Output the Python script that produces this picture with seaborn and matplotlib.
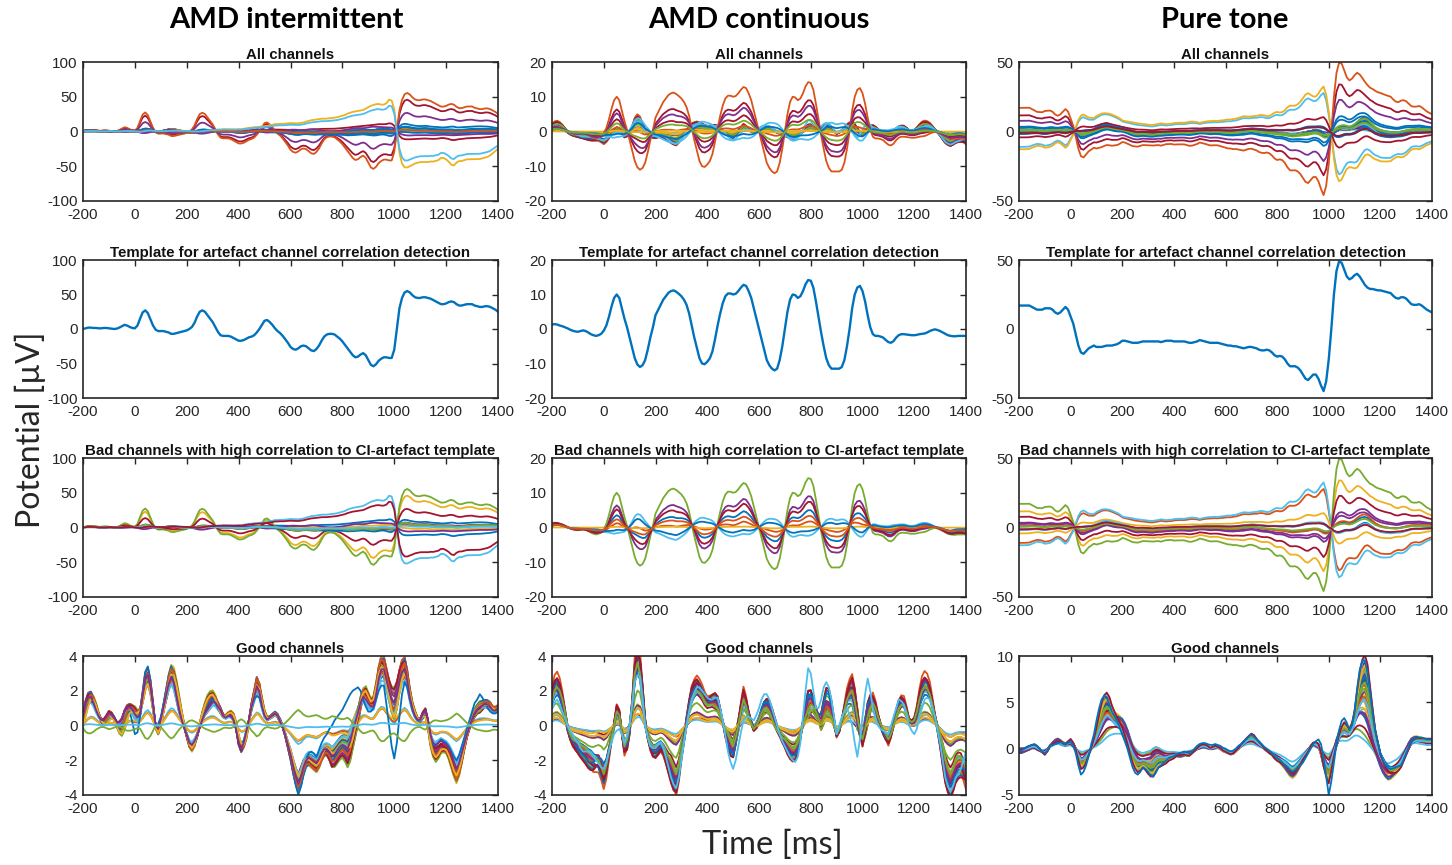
import numpy as np
import pandas as pd
import matplotlib
matplotlib.use("Agg")
import matplotlib.pyplot as plt
import seaborn as sns

# ---------------- DATA (10 ms sampling) ----------------
TIME_MS = np.arange(-200, 1401, 10)

# ---- AMD intermittent ----
TPL_INT = [0, 1, 2, 2, 1.5, 1.5, 1, 1, 1.5, 1.5,
           1, 0.5, 0, 0.5, 2, 4, 6, 5, 3, 1.5,
           1, 5, 15, 24, 27, 23, 14, 5, -1, -3,
           -3, -3, -4, -5, -7, -7, -6, -5, -4, -3,
           -2, 0, 3, 9, 18, 25, 27, 25, 20, 15,
           10, 3, -4, -9, -10, -10, -10, -11, -13, -15,
           -17, -17, -16, -14, -12, -11, -9, -5, 0, 6,
           12, 13, 10, 6, 1, -3, -6, -10, -15, -20,
           -26, -29, -30, -28, -25, -24, -25, -28, -31, -32,
           -29, -24, -17, -11, -8, -7, -7, -8, -11, -14,
           -18, -23, -28, -33, -38, -41, -40, -37, -35, -38,
           -45, -52, -54, -51, -46, -43, -41, -41, -42, -42,
           -30, 0, 30, 45, 53, 55, 53, 49, 46, 45,
           45, 46, 46, 45, 44, 42, 40, 38, 36, 36,
           37, 39, 40, 39, 36, 34, 34, 35, 36, 36,
           36, 34, 33, 32, 32, 33, 33, 32, 30, 28,
           25]
RAMP_INT = [0, 0, 0.5, 0.5, 0.5, 0.5, 0, 0, 0, 0,
            0.5, 0.5, 0, 0, 0, 0, 0.5, 0.5, 0.5, 0.5,
            0, -0.5, -1, -0.5, 0, 0.5, 1, 1, 1, 1,
            0.5, 0.5, 0, 0, 0.5, 0.5, 1, 1, 1, 1,
            1, 1, 0.5, 0.5, 0, 0, 0.5, 1, 1.5, 2,
            2, 2, 2.5, 2.5, 3, 3, 3, 3, 3, 3,
            3.5, 3.5, 4, 4.5, 5, 5, 5.5, 5.5, 6, 6.5,
            7, 7.5, 8.5, 9, 10, 10, 10.5, 10.5, 11, 11.5,
            12, 12, 12, 12, 12.5, 13, 14, 15, 16, 16.5,
            17, 17.5, 18, 18, 18, 18.5, 19, 19.5, 20, 21,
            22, 23, 25, 26, 27, 27.5, 28, 28.5, 29, 31,
            33, 35, 36, 37, 37, 36, 36, 38, 43, 42,
            30, 0, -30, -45, -50, -50, -48, -46, -44, -43,
            -42, -42, -42, -42, -41, -41, -40, -39, -36, -36,
            -38, -41, -45, -46, -42, -40, -40, -39, -38, -38,
            -38, -38, -38, -38, -37, -36, -35, -33, -30, -27,
            -24]
GOOD_MEAN_INT = [0.5, 1.2, 1.5, 1.5, 1.2, 0.8, 0.5, 0.3, 0.3, 0.5,
                 0.7, 0.6, 0.4, 0.2, 0.2, 0.4, 0.8, 1.0, 1.0, 0.9,
                 0.7, 0.5, 0.6, 1.5, 2.4, 2.6, 2.0, 1.0, 0.0, -0.2,
                 0.3, 0.9, 1.5, 2.1, 2.5, 2.2, 1.5, 0.8, 0.3, -0.1,
                 -0.5, -0.9, -1.0, -0.8, -0.5, -0.1, 0.3, 0.6, 0.8, 1.0,
                 1.2, 1.2, 1.0, 0.8, 0.5, 0.4, 0.5, 0.5, 0.3, -0.2,
                 -0.9, -1.2, -0.9, -0.3, 0.3, 1.0, 1.5, 2.1, 1.8, 1.0,
                 0.5, 0.3, 0.4, 0.5, 0.6, 0.5, 0.2, -0.1, -0.5, -1.0,
                 -1.5, -2.1, -2.6, -3.0, -2.6, -2.1, -1.8, -1.7, -1.8, -1.9,
                 -2.0, -1.8, -1.5, -1.3, -1.3, -1.5, -1.8, -1.7, -1.5, -1.3,
                 -1.2, -1.3, -1.5, -1.1, -0.5, 0.0, 0.5, 1.1, 1.5, 1.4,
                 1.2, 1.0, 1.0, 1.6, 2.5, 3.0, 3.0, 2.5, 2.0, 1.6,
                 1.5, 1.9, 2.5, 2.9, 3.0, 2.4, 1.5, 0.9, 0.5, 0.3,
                 0.3, 0.6, 0.8, 0.3, -0.5, -0.9, -1.0, -0.9, -0.8, -0.9,
                 -1.0, -1.2, -1.5, -1.9, -2.3, -2.0, -1.5, -1.0, -0.5, -0.1,
                 0.3, 0.6, 0.8, 0.9, 1.0, 1.1, 1.1, 1.0, 0.8, 0.8,
                 0.9]
GOOD_ALT_INT = [0.2, 0.8, 1.2, 1.4, 1.3, 1.0, 0.6, 0.2, 0.0, 0.1,
                0.3, 0.4, 0.4, 0.1, -0.2, 0.0, 0.4, 0.7, 0.8, 0.2,
                -0.5, -0.4, 0.5, 1.8, 2.7, 3.0, 2.2, 1.0, 0.0, 0.1,
                0.5, 1.2, 2.0, 2.7, 3.0, 2.6, 1.8, 1.1, 0.5, 0.0,
                -0.5, -1.0, -1.2, -1.0, -0.6, 0.0, 0.5, 0.9, 1.2, 1.4,
                1.5, 1.3, 1.0, 0.7, 0.5, 0.5, 0.6, 0.5, 0.4, 0.0,
                -0.8, -1.0, -0.9, -0.4, 0.2, 0.9, 1.5, 1.7, 1.6, 1.1,
                0.6, 0.5, 0.5, 0.6, 0.7, 0.6, 0.4, 0.0, -0.6, -1.0,
                -1.6, -2.3, -3.0, -3.6, -3.5, -2.8, -2.0, -1.6, -1.5, -1.6,
                -1.8, -1.4, -1.0, -0.7, -0.5, -0.2, 0.0, 0.3, 0.5, 0.7,
                0.9, 1.2, 1.5, 1.8, 2.0, 2.1, 2.2, 2.0, 1.5, 1.1,
                0.8, 0.8, 1.0, 1.5, 2.0, 2.3, 2.3, 1.2, 0.0, -1.2,
                -1.9, -1.0, 0.5, 1.8, 2.5, 2.2, 1.5, 0.9, 0.5, 0.3,
                0.2, 0.4, 0.6, 0.0, -0.8, -1.1, -1.2, -1.0, -0.8, -0.9,
                -1.0, -1.2, -1.5, -1.8, -2.0, -1.7, -1.2, -0.7, -0.2, 0.3,
                0.8, 1.3, 1.5, 1.8, 1.6, 1.3, 1.0, 0.8, 0.7, 0.7,
                0.8]
GOOD_LATE_INT = [-0.5, 0.0, 0.8, 1.5, 1.7, 1.4, 0.8, 0.3, 0.0, -0.2,
                 0.0, 0.3, 0.2, -0.3, -0.8, -1.2, -1.0, -0.3, 0.5, 1.0,
                 1.2, 1.3, 1.2, 1.0, 1.5, 2.0, 1.8, 0.8, -0.3, -0.8,
                 -0.5, 0.5, 1.5, 2.5, 3.2, 3.4, 3.0, 2.2, 1.2, 0.2,
                 -0.6, -1.2, -1.5, -1.2, -0.5, 0.3, 1.0, 1.6, 2.1, 2.3,
                 2.2, 1.8, 1.2, 0.7, 0.5, 0.6, 0.8, 1.0, 0.9, 0.5,
                 -0.2, -0.9, -1.3, -1.0, 0.0, 1.0, 2.0, 2.7, 2.5, 1.8,
                 1.0, 0.5, 0.4, 0.5, 0.6, 0.5, 0.3, 0.0, -0.4, -0.9,
                 -1.3, -1.8, -2.3, -2.6, -2.5, -2.2, -2.0, -2.2, -2.5, -2.6,
                 -2.7, -2.6, -2.2, -1.8, -1.6, -1.8, -2.1, -2.3, -2.2, -2.0,
                 -1.8, -2.0, -2.3, -2.5, -2.0, -1.0, 0.0, 1.2, 2.2, 2.7,
                 2.3, 1.8, 2.0, 2.8, 3.6, 4.0, 3.6, 2.8, 2.0, 1.2,
                 0.8, 1.2, 2.0, 2.8, 3.2, 3.0, 2.3, 1.5, 1.0, 0.5,
                 0.3, 0.5, 0.3, -0.5, -1.5, -2.2, -2.6, -2.4, -2.0, -1.8,
                 -1.8, -2.2, -2.8, -3.3, -3.6, -3.2, -2.5, -1.6, -0.8, -0.2,
                 0.3, 0.7, 0.9, 1.0, 1.1, 1.2, 1.3, 1.3, 1.2, 1.1,
                 1.0]
GOOD_W_MEAN_INT = [0.9, 1.1, 0.5, 1.2, 0.8, 0.15, 1.0, 0.7, 1.2, 0.4, 0.95, 0.3,
                   1.1, 0.85, 0.5, 0.15, 0.75, 0.5, 1.1, 0.9, 0.4, 1.0, 0.55, 0.2,
                   1.0, 0.4, 0.7, 1.2, 0.0, 0.8, 0.3, 1.0, -0.3, 0.05]
GOOD_W_ALT_INT = [0.1, -0.1, 0.3, 0.0, 0.2, 0.1, -0.2, 0.3, 0.0, 0.3, 0.1, 0.2,
                  -0.1, 0.2, 0.3, 0.05, 0.3, 0.1, -0.2, 0.1, 0.2, 0.2, 0.1, 0.0,
                  0.0, 0.3, 0.2, -0.1, 1.0, 0.1, 0.2, 0.1, 0.0, 0.0]
GOOD_W_LATE_INT = [0.2, 0.0, 0.4, 0.1, 0.0, 0.1, 0.2, 0.0, 0.1, 0.5, 0.0, 0.6,
                   0.2, 0.0, 0.3, 0.1, 0.0, 0.4, 0.2, 0.0, 0.5, 0.1, 0.3, 0.1,
                   0.2, 0.4, 0.0, 0.1, 0.0, 0.3, 0.5, 0.0, 0.0, 0.0]
BAD_TPL_INT = [0.0, 0.05, 0.82, 0.1, 1.0, 0.0, 0.47, 0.0, 0.06, 0.0, -0.12, 0.08, 0.02, 0.0]
BAD_RAMP_INT = [0.25, 0.0, 0.0, 0.0, 0.0, 1.05, 0.0, -0.18, 0.0, 0.05, 0.0, 0.0, 0.0, 0.85]
BAD_NEURAL_INT = [0.5, 0.8, 0.3, 0.6, 0.2, 0.3, 0.4, 0.7, 0.5, 0.6, 0.4, 0.8, 0.5, 0.3]

# ---- AMD continuous ----
TPL_CONT = [1.3, 1.4, 1.3, 1.0, 0.8, 0.5, 0.2, -0.2, -0.5, -0.7,
            -0.8, -0.6, -0.4, -0.6, -1.0, -1.5, -1.8, -2.0, -1.8, -1.4,
            -0.5, 1.0, 3.5, 6.5, 9.0, 10.0, 9.0, 6.0, 3.0, 0.5,
            -2.5, -5.5, -8.5, -10.3, -11.0, -10.5, -9.0, -6.0, -2.5, 0.5,
            4.0, 5.5, 7.0, 8.5, 9.5, 10.5, 11.0, 11.2, 10.8, 10.2,
            9.5, 8.5, 7.0, 4.5, 1.0, -2.5, -5.5, -8.5, -10.0, -10.2,
            -9.5, -8.5, -6.5, -3.0, 1.0, 4.5, 7.5, 9.5, 10.3, 10.3,
            10.0, 10.2, 11.0, 12.0, 12.8, 12.5, 11.0, 9.0, 6.0, 3.0,
            0.0, -3.0, -6.0, -9.0, -10.5, -11.5, -12.0, -11.5, -9.0, -5.0,
            0.0, 5.0, 8.5, 10.0, 9.8, 9.0, 9.5, 11.0, 13.0, 14.2,
            14.0, 12.0, 8.0, 3.5, -1.0, -5.0, -8.5, -10.5, -11.5, -11.5,
            -11.5, -11.5, -11.0, -9.0, -5.0, 0.0, 6.0, 10.0, 12.0, 12.5,
            11.0, 8.0, 4.0, 0.5, -1.5, -2.0, -2.0, -2.2, -2.5, -3.2,
            -3.8, -4.0, -3.5, -2.5, -1.8, -1.5, -1.5, -1.6, -1.7, -1.8,
            -1.8, -1.7, -1.5, -1.4, -1.3, -1.0, -0.6, -0.3, -0.1, -0.3,
            -0.6, -1.0, -1.4, -1.8, -2.0, -2.1, -2.1, -2.0, -2.0, -2.0,
            -2.0]
GOOD_MEAN_CONT = [1.5, 2.0, 2.2, 2.0, 1.5, 0.8, 0.0, -0.5, -0.8, -0.9,
                  -1.0, -1.1, -1.2, -1.3, -1.5, -1.6, -1.8, -1.9, -2.0, -2.4,
                  -2.8, -2.3, -1.5, -0.7, 0.0, 0.8, 0.6, -0.4, -1.2, -0.8,
                  0.0, 1.2, 3.0, 3.6, 3.0, 1.5, 0.0, -0.6, -1.0, -1.2,
                  -1.2, -1.1, -1.0, -1.2, -1.5, -1.8, -2.0, -2.4, -2.8, -2.3,
                  -1.5, -0.8, 0.0, 0.8, 1.5, 1.8, 2.0, 1.9, 1.7, 1.4,
                  1.2, 1.2, 1.2, 1.1, 1.0, 0.6, 0.2, -0.2, -0.5, -0.9,
                  -1.2, -0.7, 0.0, 0.8, 1.5, 1.1, 0.5, 0.1, -0.2, 0.0,
                  0.3, 0.7, 1.0, 1.0, 0.8, 0.4, 0.0, -0.3, -0.5, -0.7,
                  -0.8, -1.0, -1.2, -1.3, -1.3, -1.0, -0.5, 0.0, 0.5, 0.9,
                  1.2, 1.1, 0.8, 0.4, 0.0, 0.4, 0.8, 0.7, 0.5, 0.0,
                  -0.5, -0.2, 0.3, 0.9, 1.5, 1.8, 2.0, 1.4, 0.5, -0.3,
                  -0.8, -0.2, 0.5, 1.0, 1.3, 1.0, 0.5, 0.1, -0.2, -0.5,
                  -0.8, -0.5, 0.0, 0.5, 1.0, 1.2, 1.2, 0.8, 0.3, 0.2,
                  0.3, 0.8, 1.5, 2.0, 2.2, 2.1, 1.8, 1.2, 0.5, 0.0,
                  -0.5, -1.2, -2.0, -2.5, -2.8, -2.5, -2.0, -1.8, -1.8, -2.1,
                  -2.5]
GOOD_ALT_CONT = [1.0, 1.3, 1.5, 1.2, 0.8, 0.4, 0.0, -0.3, -0.5, -0.8,
                 -1.0, -1.3, -1.5, -1.5, -1.5, -1.6, -1.8, -2.0, -2.2, -2.4,
                 -2.5, -2.1, -1.5, -1.0, -0.5, -0.3, -0.2, -0.5, -1.0, -0.6,
                 0.0, 1.2, 2.5, 2.9, 2.8, 1.5, 0.0, -0.7, -1.2, -1.3,
                 -1.3, -1.1, -1.0, -1.3, -1.8, -2.4, -3.0, -3.4, -3.6, -3.0,
                 -2.0, -1.0, 0.0, 0.8, 1.5, 1.9, 2.2, 2.2, 2.0, 1.8,
                 1.6, 1.5, 1.5, 1.6, 1.6, 1.0, 0.3, -0.6, -1.5, -2.1,
                 -2.5, -2.0, -1.2, -0.4, 0.3, 0.5, 0.5, 0.4, 0.3, 0.6,
                 1.0, 1.5, 1.8, 1.8, 1.5, 1.0, 0.5, 0.0, -0.5, -0.9,
                 -1.2, -1.5, -1.8, -2.0, -2.1, -1.8, -1.0, 0.5, 2.0, 3.3,
                 3.0, 2.0, 1.0, 1.0, 1.5, 2.2, 2.5, 2.2, 1.5, 0.5,
                 -0.5, 0.0, 0.5, 0.8, 1.0, 0.6, 0.0, -1.0, -1.8, -0.8,
                 0.5, 1.8, 2.7, 2.0, 1.0, 0.4, 0.0, -0.2, -0.3, -0.4,
                 -0.5, 0.0, 0.5, 1.0, 1.5, 1.4, 1.2, 0.6, 0.0, -0.3,
                 -0.5, -0.2, 0.5, 1.0, 1.5, 1.6, 1.5, 1.0, 0.5, -0.3,
                 -1.0, -2.0, -3.0, -3.5, -3.8, -3.5, -3.0, -2.8, -2.5, -2.0,
                 -1.5]
GOOD_LATE_CONT = [2.0, 2.5, 2.3, 1.6, 0.8, 0.0, -0.6, -1.0, -1.3, -1.6,
                  -1.8, -2.0, -2.2, -2.5, -2.8, -2.9, -2.6, -2.0, -1.5, -1.2,
                  -1.5, -1.5, -1.0, -0.3, 0.5, 1.3, 1.0, -0.2, -1.5, -1.8,
                  -1.0, 0.5, 2.0, 3.2, 3.5, 2.5, 0.8, -0.5, -1.2, -1.8,
                  -2.0, -1.8, -1.5, -1.5, -2.0, -2.6, -3.2, -3.5, -3.3, -2.5,
                  -1.2, 0.0, 1.0, 1.8, 2.3, 2.5, 2.4, 2.0, 1.6, 1.3,
                  1.2, 1.4, 1.7, 1.9, 1.6, 0.9, 0.0, -0.8, -1.3, -1.5,
                  -1.2, -0.3, 0.8, 1.7, 2.2, 1.8, 0.9, 0.2, -0.3, -0.4,
                  -0.2, 0.3, 0.8, 1.2, 1.3, 1.1, 0.7, 0.2, -0.3, -0.8,
                  -1.2, -1.6, -1.8, -1.9, -1.7, -1.2, -0.5, 0.3, 0.9, 1.3,
                  1.3, 1.0, 0.6, 0.3, 0.5, 1.3, 2.2, 2.3, 1.5, 0.5,
                  -0.5, -0.6, 0.0, 0.8, 1.7, 2.5, 2.8, 2.3, 1.0, -0.5,
                  -1.3, -0.5, 0.6, 1.5, 1.7, 1.2, 0.5, -0.2, -0.7, -1.0,
                  -1.0, -0.5, 0.2, 0.8, 1.2, 1.5, 1.3, 0.8, 0.3, 0.2,
                  0.3, 0.8, 1.5, 2.2, 2.5, 2.3, 1.8, 1.0, 0.3, -0.5,
                  -1.5, -2.5, -3.2, -3.6, -3.8, -3.5, -3.2, -3.0, -3.0, -3.2,
                  -3.4]
GOOD_W_MEAN_CONT = [0.8, 0.2, 0.4, 1.2, 0.7, 0.1, 1.0, 0.6, 1.2, 0.15, 0.9, 0.25,
                    1.0, 0.1, 0.5, 1.0, 0.7, 0.15, 1.1, 0.05, 0.4, 1.0, 0.6, 0.2,
                    1.0, 0.3, 0.75, 1.1, 0.3, 0.8, 0.1, 0.6, 1.0, 0.0]
GOOD_W_ALT_CONT = [0.2, 0.0, 0.3, 0.0, 0.2, 0.1, -0.2, 0.3, 0.0, 0.1, 0.1, 0.0,
                   -0.1, 0.1, 0.3, 0.0, 0.3, 0.1, -0.2, 0.05, 0.3, 0.2, 0.1, 0.0,
                   0.0, 0.1, 0.2, -0.1, 0.3, 0.1, 0.0, 0.2, 0.0, 1.0]
GOOD_W_LATE_CONT = [0.0, 0.1, 0.5, 0.0, 0.3, 0.1, 0.1, 0.0, 0.2, 0.1, 0.0, 0.1,
                    0.1, 0.0, 0.4, 0.2, 0.0, 0.1, 0.1, 0.05, 0.5, 0.0, 0.3, 0.1,
                    0.2, 0.2, 0.0, 0.2, 0.4, 0.1, 0.1, 0.2, 0.0, 0.0]
BAD_TPL_CONT = [0.33, 0.1, 0.02, 0.62, 1.0, -0.2, 0.5, -0.1, 0.22]
BAD_NEURAL_CONT = [0.3, 0.3, 0.0, 0.2, 0.0, 0.5, 0.3, 0.4, 0.2]

# ---- Pure tone ----
TPL_TONE = [17, 17, 17, 17, 17, 16, 15, 14, 14, 14,
            15, 15, 15, 14, 12, 11, 12, 14, 16, 14,
            9, 4, -4, -12, -17, -18, -16, -14, -13, -12,
            -13, -13, -13, -12.5, -12, -12, -12, -11.5, -11, -10,
            -8.5, -8.5, -9, -9.5, -10, -10, -10, -9.5, -9, -9,
            -9, -9, -9, -9, -9, -9.5, -9, -8.5, -8.5, -8.5,
            -9, -9, -9, -9, -9, -9.5, -10, -10, -9.5, -9,
            -8, -8.5, -9, -9.5, -10, -10, -10, -10, -10.5, -11,
            -11.5, -12, -12, -12.5, -12.5, -13, -13.5, -14, -13.5, -13,
            -13, -13.5, -14, -15, -15.5, -15.5, -15, -15.5, -17, -19,
            -20, -19.5, -20, -22, -25, -27, -27, -27, -28, -30,
            -33, -36, -37, -35, -33, -33, -36, -41, -45, -38,
            -22, 0, 25, 42, 49, 48, 43, 38, 36, 37,
            39, 40, 38, 35, 32, 30, 29, 29, 28.5, 28,
            28, 27.5, 27, 26.5, 26, 24, 22.5, 22, 23, 23,
            22, 20, 18, 17.5, 17.5, 18, 17, 15.5, 14, 13,
            12]
GOOD_MEAN_TONE = [0.0, 0.0, 0.0, 0.1, 0.2, 0.3, 0.3, 0.2, 0.0, -0.3,
                  -0.5, -0.2, 0.2, 0.4, 0.5, 0.6, 0.6, 0.4, 0.3, 0.6,
                  0.8, 0.5, 0.0, -0.8, -1.5, -1.4, -1.0, -0.5, 0.0, 0.7,
                  1.5, 2.5, 3.5, 4.2, 4.5, 4.2, 3.5, 3.0, 2.5, 2.2,
                  1.8, 1.2, 0.5, -0.3, -1.0, -1.5, -1.8, -1.7, -1.5, -1.7,
                  -2.0, -2.2, -2.2, -1.8, -1.5, -1.4, -1.3, -1.2, -1.0, -0.9,
                  -0.8, -0.6, -0.5, -0.5, -0.5, -0.6, -0.6, -0.4, -0.2, 0.0,
                  0.2, 0.3, 0.3, 0.2, 0.0, 0.1, 0.2, 0.1, 0.0, -0.2,
                  -0.3, -0.4, -0.5, -0.4, -0.2, 0.0, 0.3, 0.5, 0.8, 1.0,
                  1.2, 1.1, 0.8, 0.5, 0.3, 0.0, -0.2, -0.4, -0.5, -0.8,
                  -1.0, -1.1, -1.2, -1.3, -1.5, -1.8, -2.0, -1.8, -1.5, -1.2,
                  -0.8, -0.5, -0.2, 0.2, 0.5, 0.5, 0.3, -0.5, -1.5, -2.2,
                  -2.5, -1.5, -0.5, 0.3, 1.0, 1.6, 2.0, 1.8, 1.5, 2.0,
                  3.0, 4.5, 6.0, 7.0, 7.5, 6.8, 5.0, 3.2, 1.5, 0.5,
                  -0.5, -1.0, -1.5, -1.8, -2.0, -2.0, -2.0, -1.8, -1.5, -1.0,
                  -0.5, 0.0, 0.5, 0.7, 0.8, 0.8, 0.8, 0.8, 0.8, 0.8,
                  0.8]
GOOD_ALT_TONE = [-0.3, -0.2, 0.0, 0.2, 0.3, 0.4, 0.5, 0.3, 0.0, -0.3,
                 -0.5, -0.2, 0.3, 0.4, 0.5, 0.6, 0.7, 0.6, 0.5, 0.6,
                 0.8, 0.3, -0.5, -1.8, -2.8, -2.5, -1.8, -0.8, 0.5, 1.5,
                 3.0, 4.3, 5.3, 5.7, 5.5, 4.8, 4.0, 3.5, 3.0, 2.3,
                 1.5, 0.8, 0.0, -1.0, -2.0, -2.6, -2.8, -2.5, -2.0, -2.2,
                 -2.5, -2.9, -3.0, -2.6, -2.0, -1.8, -1.5, -1.3, -1.0, -0.9,
                 -0.8, -0.6, -0.5, -0.4, -0.3, -0.4, -0.5, -0.3, 0.0, 0.3,
                 0.5, 0.6, 0.6, 0.5, 0.4, 0.4, 0.5, 0.4, 0.3, 0.1,
                 0.0, -0.2, -0.3, -0.2, 0.0, 0.3, 0.5, 0.8, 1.0, 1.3,
                 1.5, 1.3, 1.0, 0.8, 0.5, 0.2, 0.0, -0.2, -0.5, -0.8,
                 -1.0, -1.2, -1.5, -1.8, -2.0, -2.3, -2.5, -2.3, -2.0, -1.8,
                 -1.5, -1.0, -0.5, 0.0, 0.5, 0.8, 1.0, 0.5, -1.0, -3.0,
                 -5.0, -3.5, -1.5, 0.5, 2.0, 3.0, 3.3, 2.8, 2.0, 2.5,
                 4.0, 6.5, 8.5, 9.5, 9.5, 8.2, 6.0, 3.8, 2.0, 0.7,
                 -0.5, -1.3, -1.8, -2.1, -2.2, -2.1, -2.0, -1.9, -1.8, -1.2,
                 -0.5, 0.2, 0.8, 1.1, 1.2, 1.2, 1.2, 1.1, 1.0, 1.0,
                 1.0]
GOOD_LATE_TONE = [-0.5, -0.5, -0.4, -0.3, -0.2, 0.0, 0.0, -0.2, -0.3, -0.3,
                  -0.2, 0.0, 0.3, 0.6, 0.9, 1.0, 0.8, 0.6, 0.5, 0.6,
                  0.6, 0.3, 0.0, -0.3, -0.5, -0.5, -0.3, -0.2, 0.0, 0.2,
                  0.4, 0.7, 1.0, 1.5, 2.0, 2.4, 2.7, 2.9, 3.0, 3.0,
                  3.0, 2.7, 2.2, 1.5, 0.8, 0.2, -0.3, -0.6, -0.8, -0.6,
                  -0.4, -0.2, 0.3, 0.5, 0.3, 0.0, -0.3, -0.5, -0.6, -0.6,
                  -0.6, -0.7, -0.8, -0.8, -0.7, -0.5, -0.4, -0.3, -0.2, -0.1,
                  0.0, 0.1, 0.1, 0.0, -0.1, -0.1, 0.0, 0.1, 0.1, 0.0,
                  -0.1, -0.3, -0.5, -0.5, -0.3, 0.0, 0.3, 0.6, 0.8, 0.9,
                  0.9, 0.8, 0.6, 0.4, 0.2, 0.0, -0.2, -0.4, -0.6, -0.8,
                  -1.0, -1.2, -1.5, -1.8, -2.2, -2.5, -2.6, -2.4, -2.0, -1.5,
                  -1.0, -0.5, 0.0, 0.3, 0.5, 0.3, 0.0, -0.2, -0.5, -0.8,
                  -1.0, -0.5, 0.3, 1.0, 1.5, 1.6, 1.5, 1.5, 1.8, 2.2,
                  2.5, 2.4, 2.0, 1.5, 1.0, 0.5, 0.0, -0.5, -1.0, -1.5,
                  -2.0, -2.5, -2.8, -3.0, -2.8, -2.5, -2.2, -1.8, -1.2, -0.5,
                  0.2, 0.7, 1.0, 1.1, 1.1, 1.0, 0.9, 0.8, 0.7, 0.7,
                  0.7]
GOOD_W_MEAN_TONE = [1.2, 0.9, 0.3, 1.3, 0.7, 0.5, 1.0, 0.2, 1.1, 0.6, 0.8, 0.1,
                    1.25, 0.4, 0.95, 0.75, 0.35, 1.15, 0.55, 0.05, 0.85, 1.05, 0.45, 0.65,
                    0.25, 1.0, 0.7, 0.15, 0.9, 0.5, 1.2, 0.3, 0.8, 0.6, 1.1, 0.0]
GOOD_W_ALT_TONE = [0.0, 0.1, 0.2, -0.1, 0.1, 0.0, 0.2, 0.1, -0.1, 0.1, 0.0, 0.0,
                   0.05, 0.2, 0.0, 0.1, 0.1, -0.05, 0.2, 0.0, 0.1, 0.0, 0.15, 0.05,
                   0.1, 0.1, 0.0, 0.05, 0.1, 0.15, 0.0, 0.1, 0.1, 0.05, 0.2, 1.0]
GOOD_W_LATE_TONE = [0.0, 0.2, 0.8, 0.0, 0.3, 0.5, 0.0, 0.9, 0.1, 0.4, 0.2, 0.7,
                    0.0, 0.6, 0.1, 0.3, 0.7, 0.0, 0.4, 0.5, 0.2, 0.0, 0.5, 0.3,
                    0.8, 0.1, 0.2, 0.6, 0.0, 0.4, 0.0, 0.6, 0.2, 0.3, 0.0, 0.0]
BAD_TPL_TONE = [0.05, -0.65, 0.68, 0.15, 1.0, -0.75, 0.45, -0.08, 0.06, -0.25, 0.2, 0.03, -0.1, -0.08]
BAD_NEURAL_TONE = [0.8, 1.0, 0.6, 0.8, 0.5, 0.9, 0.7, 0.8, 1.0, 0.6, 0.9, 0.7, 0.8, 0.6]

COLUMN_TITLES = ["AMD intermittent", "AMD continuous", "Pure tone"]
ROW_TITLES = ["All channels",
              "Template for artefact channel correlation detection",
              "Bad channels with high correlation to CI-artefact template",
              "Good channels"]
X_TICKS = [-200, 0, 200, 400, 600, 800, 1000, 1200, 1400]
Y_TICKS_ART = [[-100, -50, 0, 50, 100], [-20, -10, 0, 10, 20], [-50, 0, 50]]
Y_TICKS_GOOD = [[-4, -2, 0, 2, 4], [-4, -2, 0, 2, 4], [-5, 0, 5, 10]]

# ---------------- STYLE ----------------
MATLAB = ["#0072BD", "#D95319", "#EDB120", "#7E2F8E", "#77AC30", "#4DBEEE", "#A2142F"]
# colour index of each bad channel when it is drawn inside the "All channels" panel
ALL_COL_INT = [6, 0, 6, 0, 1, 2, 3, 0, 4, 0, 3, 0, 1, 5]
ALL_COL_CONT = [6, 1, 2, 6, 1, 5, 3, 0, 4]
ALL_COL_TONE = [0, 5, 6, 0, 1, 2, 3, 0, 4, 6, 0, 4, 0, 6]

for arr in [TPL_INT, RAMP_INT, GOOD_MEAN_INT, GOOD_ALT_INT, GOOD_LATE_INT, TPL_CONT,
            GOOD_MEAN_CONT, GOOD_ALT_CONT, GOOD_LATE_CONT, TPL_TONE, GOOD_MEAN_TONE,
            GOOD_ALT_TONE, GOOD_LATE_TONE]:
    assert len(arr) == len(TIME_MS), len(arr)

sns.set_theme(style="white")
plt.rcParams["font.family"] = ["Liberation Sans", "DejaVu Sans"]
plt.rcParams["axes.unicode_minus"] = False
INK = "#262626"


def good_traces(bases, weights):
    bases = [np.asarray(b, float) for b in bases]
    out = []
    for ws in zip(*weights):
        out.append(sum(w * b for w, b in zip(ws, bases)))
    return out


def bad_traces(tpl, gt, neural, gn, ramp=None, gr=None):
    t = np.asarray(tpl, float)
    n = np.asarray(neural, float)
    out = []
    for i, (g, k) in enumerate(zip(gt, gn)):
        tr = g * t + k * n
        if ramp is not None:
            tr = tr + gr[i] * np.asarray(ramp, float)
        out.append(tr)
    return out


conds = []
g = good_traces([GOOD_MEAN_INT, GOOD_ALT_INT, GOOD_LATE_INT],
                [GOOD_W_MEAN_INT, GOOD_W_ALT_INT, GOOD_W_LATE_INT])
b = bad_traces(TPL_INT, BAD_TPL_INT, GOOD_MEAN_INT, BAD_NEURAL_INT, RAMP_INT, BAD_RAMP_INT)
conds.append(dict(tpl=TPL_INT, good=g, bad=b, allcol=ALL_COL_INT))
g = good_traces([GOOD_MEAN_CONT, GOOD_ALT_CONT, GOOD_LATE_CONT],
                [GOOD_W_MEAN_CONT, GOOD_W_ALT_CONT, GOOD_W_LATE_CONT])
b = bad_traces(TPL_CONT, BAD_TPL_CONT, GOOD_MEAN_CONT, BAD_NEURAL_CONT)
conds.append(dict(tpl=TPL_CONT, good=g, bad=b, allcol=ALL_COL_CONT))
g = good_traces([GOOD_MEAN_TONE, GOOD_ALT_TONE, GOOD_LATE_TONE],
                [GOOD_W_MEAN_TONE, GOOD_W_ALT_TONE, GOOD_W_LATE_TONE])
b = bad_traces(TPL_TONE, BAD_TPL_TONE, GOOD_MEAN_TONE, BAD_NEURAL_TONE)
conds.append(dict(tpl=TPL_TONE, good=g, bad=b, allcol=ALL_COL_TONE))


def draw(ax, traces, colors, lw=1.3):
    names = [f"c{i:03d}" for i in range(len(traces))]
    df = pd.DataFrame({
        "t": np.tile(TIME_MS, len(traces)),
        "v": np.concatenate(traces),
        "ch": np.repeat(names, len(TIME_MS)),
    })
    sns.lineplot(data=df, x="t", y="v", hue="ch", hue_order=names,
                 palette=dict(zip(names, colors)), estimator=None, sort=False,
                 legend=False, ax=ax, linewidth=lw)


W, H = 1452, 865
fig = plt.figure(figsize=(W / 100, H / 100), dpi=100)
col_px = [(83, 498), (552, 966), (1019, 1432)]
row_px = [(62, 201), (260, 398), (458, 597), (656, 795)]

for c, cond in enumerate(conds):
    for r in range(4):
        x0, x1 = col_px[c]
        y0, y1 = row_px[r]
        ax = fig.add_axes([x0 / W, 1 - y1 / H, (x1 - x0) / W, (y1 - y0) / H])
        if r == 0:
            traces = cond["good"] + cond["bad"]
            cols = [MATLAB[i % 7] for i in range(len(cond["good"]))] + [MATLAB[k] for k in cond["allcol"]]
        elif r == 1:
            traces = [np.asarray(cond["tpl"], float)]
            cols = [MATLAB[0]]
        elif r == 2:
            traces = cond["bad"]
            cols = [MATLAB[i % 7] for i in range(len(traces))]
        else:
            traces = cond["good"]
            cols = [MATLAB[i % 7] for i in range(len(traces))]
        draw(ax, traces, cols, lw=1.7 if r == 1 else 1.3)
        yt = Y_TICKS_GOOD[c] if r == 3 else Y_TICKS_ART[c]
        ax.set_xlim(-200, 1400)
        ax.set_ylim(yt[0], yt[-1])
        ax.set_xticks(X_TICKS)
        ax.set_yticks(yt)
        ax.set_xlabel("")
        ax.set_ylabel("")
        ax.tick_params(direction="in", top=True, right=True, length=4, width=1,
                       color=INK, labelcolor=INK, labelsize=11)
        ax.tick_params(axis="x", pad=5)
        ax.tick_params(axis="y", pad=4)
        for s in ax.spines.values():
            s.set_visible(True)
            s.set_color(INK)
            s.set_linewidth(1.2)
        ax.set_title(ROW_TITLES[r], fontsize=10.8, fontweight="bold", pad=2, color="#111111")

col_centers = [286, 759, 1225]
for c, name in enumerate(COLUMN_TITLES):
    fig.text(col_centers[c] / W, 1 - 20 / H, name, ha="center", va="center",
             fontsize=21, fontweight="bold", family=["Lato", "DejaVu Sans"], color="black")

fig.text(30 / W, 1 - 430 / H, "Potential [\u00b5V]", rotation=90, ha="center", va="center",
         fontsize=23, family=["Lato", "DejaVu Sans"], color=INK)
fig.text(772 / W, 1 - 845 / H, "Time [ms]", ha="center", va="center",
         fontsize=23.5, family=["Lato", "DejaVu Sans"], color=INK)

fig.savefig("out.png", dpi=100)
